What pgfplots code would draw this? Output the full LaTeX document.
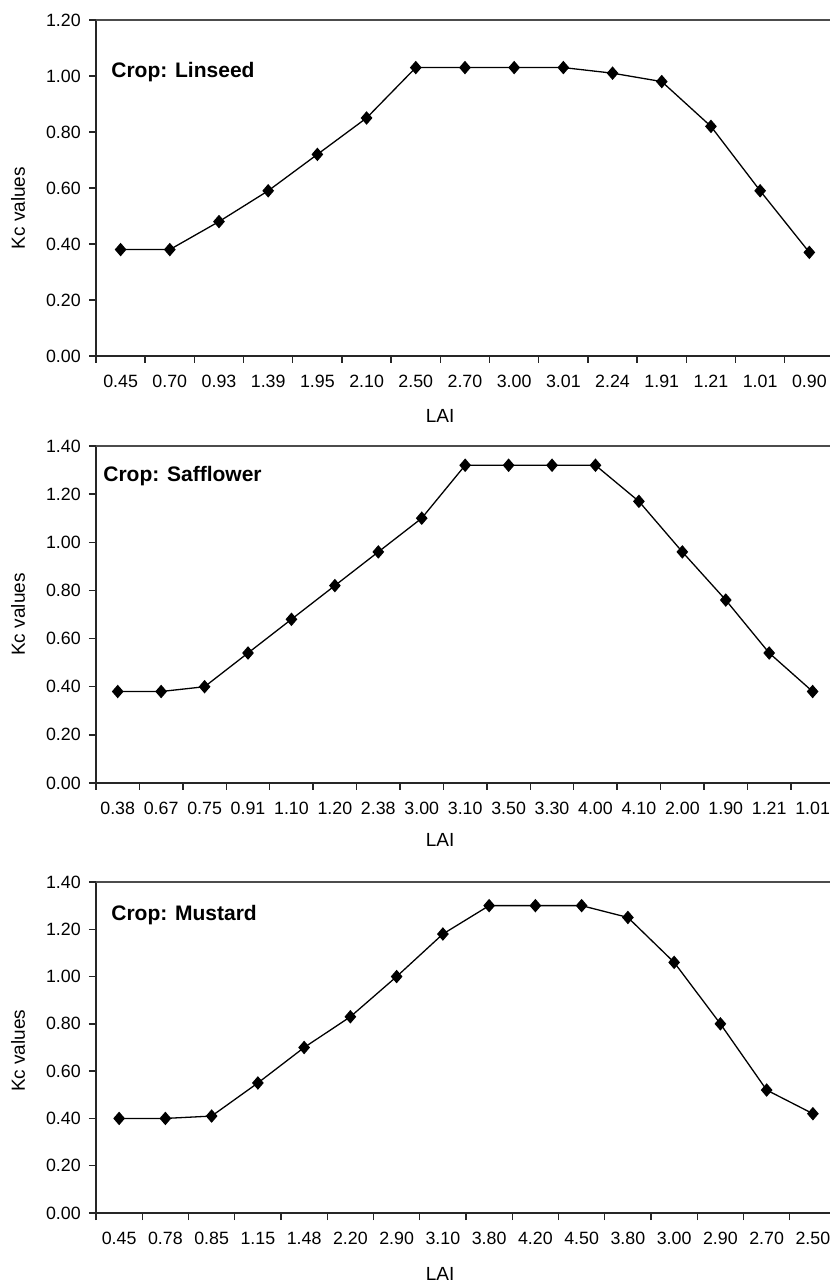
\documentclass[border=0pt]{standalone}
\usepackage{fontspec}
\setmainfont{Liberation Sans}
\usepackage{pgfplots}
\pgfplotsset{compat=1.18}
\newcommand\tickfont{\fontsize{8.9}{10}\selectfont}
\newcommand\labfont{\fontsize{9.5}{11}\selectfont}
\newcommand\cropfont{\fontsize{10.5}{12}\selectfont\bfseries}
\pgfplotsset{
  kcaxis/.style={
    scale only axis, width=367pt, anchor=south west,
    axis lines*=left,
    axis line style={-, line width=0.8pt, color=black!85},
    tick align=outside, major tick length=3.5pt,
    tick style={line width=0.7pt, color=black!85},
    ymin=0, xmin=-0.5,
    clip=false,
    /pgf/number format/assume math mode=true,
    yticklabel style={font=\tickfont, xshift=-0.6pt,
      /pgf/number format/fixed, /pgf/number format/fixed zerofill,
      /pgf/number format/precision=2},
    xticklabels={},
    extra x tick style={tick style={draw=none},
      xticklabel style={font=\tickfont, anchor=north, yshift=-2.5pt}},
    ylabel={Kc values}, xlabel={LAI},
    label style={font=\labfont},
  },
  kcplot/.style={black, line width=0.65pt, mark=diamond*, mark size=2.9pt,
    mark options={solid, fill=black, xscale=1.15}},
}
\begin{document}
\begin{tikzpicture}
\useasboundingbox (0pt,0pt) rectangle (415pt,641.5pt);
\fill[white] (0pt,0pt) rectangle (415pt,641.5pt);
% Panel 1: Linseed
\begin{axis}[kcaxis, at={(48pt,463.5pt)}, height=168pt, ymax=1.2, xmax=14.42,
  ytick={0,0.2,0.4,0.6,0.8,1.0,1.2},
  xtick={-0.5,0.5,...,13.5},
  extra x ticks={0,1,...,14},
  extra x tick labels={0.45,0.70,0.93,1.39,1.95,2.10,2.50,2.70,3.00,3.01,2.24,1.91,1.21,1.01,0.90},
  ylabel style={at={(axis description cs:-0.106,0.44)}, anchor=center},
  xlabel style={at={(axis description cs:0.4687,-0.1786)}, anchor=center}]
\addplot[kcplot] coordinates {
 (0,0.38) (1,0.38) (2,0.48) (3,0.59) (4,0.72) (5,0.85) (6,1.03) (7,1.03)
 (8,1.03) (9,1.03) (10,1.01) (11,0.98) (12,0.82) (13,0.59) (14,0.37)};
\draw[line width=1pt, black!70] (rel axis cs:0,1) -- (rel axis cs:1,1);
\node[anchor=base west, inner sep=0pt, font=\cropfont] at (axis cs:-0.195,0.993) {Crop: Linseed};
\end{axis}
% Panel 2: Safflower
\begin{axis}[kcaxis, at={(48pt,250pt)}, height=168.5pt, ymax=1.4, xmax=16.4,
  ytick={0,0.2,0.4,0.6,0.8,1.0,1.2,1.4},
  xtick={-0.5,0.5,...,15.5},
  extra x ticks={0,1,...,16},
  extra x tick labels={0.38,0.67,0.75,0.91,1.10,1.20,2.38,3.00,3.10,3.50,3.30,4.00,4.10,2.00,1.90,1.21,1.01},
  ylabel style={at={(axis description cs:-0.106,0.5)}, anchor=center},
  xlabel style={at={(axis description cs:0.4687,-0.169)}, anchor=center}]
\addplot[kcplot] coordinates {
 (0,0.38) (1,0.38) (2,0.40) (3,0.54) (4,0.68) (5,0.82) (6,0.96) (7,1.10)
 (8,1.32) (9,1.32) (10,1.32) (11,1.32) (12,1.17) (13,0.96) (14,0.76) (15,0.54) (16,0.38)};
\draw[line width=1pt, black!70] (rel axis cs:0,1) -- (rel axis cs:1,1);
\node[anchor=base west, inner sep=0pt, font=\cropfont] at (axis cs:-0.34,1.252) {Crop: Safflower};
\end{axis}
% Panel 3: Mustard
\begin{axis}[kcaxis, at={(48pt,35pt)}, height=165.5pt, ymax=1.4, xmax=15.37,
  ytick={0,0.2,0.4,0.6,0.8,1.0,1.2,1.4},
  xtick={-0.5,0.5,...,15.5},
  extra x ticks={0,1,...,15},
  extra x tick labels={0.45,0.78,0.85,1.15,1.48,2.20,2.90,3.10,3.80,4.20,4.50,3.80,3.00,2.90,2.70,2.50},
  ylabel style={at={(axis description cs:-0.106,0.49)}, anchor=center},
  xlabel style={at={(axis description cs:0.4687,-0.184)}, anchor=center}]
\addplot[kcplot] coordinates {
 (0,0.40) (1,0.40) (2,0.41) (3,0.55) (4,0.70) (5,0.83) (6,1.00) (7,1.18)
 (8,1.30) (9,1.30) (10,1.30) (11,1.25) (12,1.06) (13,0.80) (14,0.52) (15,0.42)};
\draw[line width=1pt, black!70] (rel axis cs:0,1) -- (rel axis cs:1,1);
\node[anchor=base west, inner sep=0pt, font=\cropfont] at (axis cs:-0.176,1.239) {Crop: Mustard};
\end{axis}
\end{tikzpicture}
\end{document}
